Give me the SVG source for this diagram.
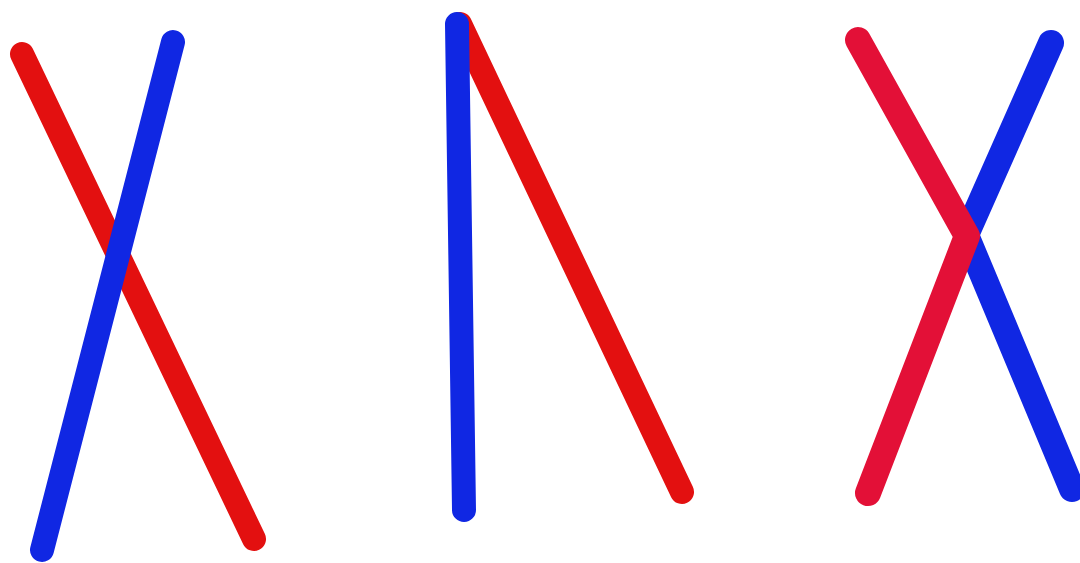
<svg xmlns="http://www.w3.org/2000/svg" width="1080" height="563" viewBox="0 0 1080 563">
<style>
.s{fill:none;stroke-width:24;stroke-linecap:round;stroke-linejoin:round}
.w{stroke-width:26}
.r{stroke:#E31010}
.b{stroke:#1027E3}
.c{stroke:#E31037}
</style>
<rect width="1080" height="563" fill="#fff"/>
<line class="s r" x1="22" y1="54" x2="254" y2="539"/>
<line class="s b" x1="173" y1="42" x2="42" y2="550"/>
<line class="s r" x1="460" y1="24" x2="682" y2="492"/>
<line class="s b" x1="457" y1="24" x2="464" y2="510"/>
<polyline class="s w b" points="1051,43 966,235 1072,489"/>
<polyline class="s w c" points="858,40 967,236 868,493"/>
</svg>
